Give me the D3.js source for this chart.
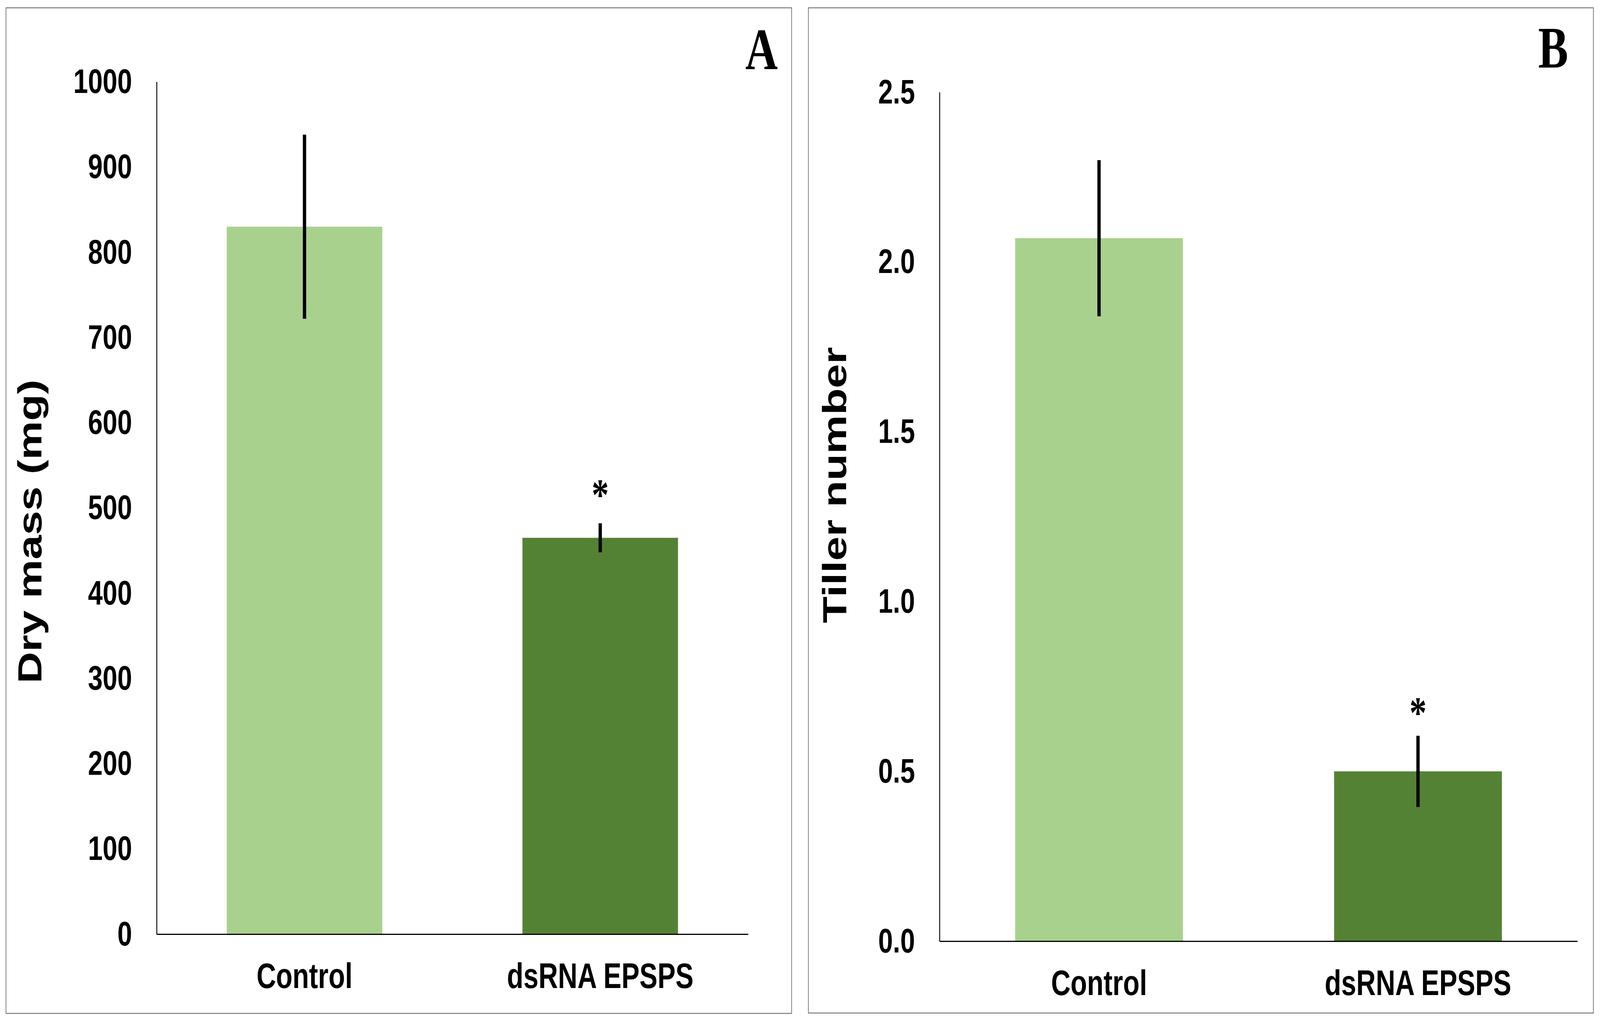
<!DOCTYPE html>
<html>
<head>
<meta charset="utf-8">
<script src="https://cdn.jsdelivr.net/npm/d3@7/dist/d3.min.js"></script>
<style>
  html, body { margin: 0; padding: 0; background: #ffffff; overflow: hidden; }
  svg { display: block; }
</style>
</head>
<body>
<svg id="chart" viewBox="0 0 5332 2617" preserveAspectRatio="none"></svg>
<script>
// ---------------- DATA ----------------
const categories = ["Control", "dsRNA EPSPS"];

// Panel A: Dry mass (mg)
const dryMassMean = [830, 465];
const dryMassErr  = [108, 17];
const dryMassTicks = [0, 100, 200, 300, 400, 500, 600, 700, 800, 900, 1000];
const dryMassSig = ["", "*"];

// Panel B: Tiller number
const tillerMean = [2.07, 0.50];
const tillerErr  = [0.23, 0.105];
const tillerTicks = [0, 0.5, 1.0, 1.5, 2.0, 2.5];
const tillerSig = ["", "*"];

const barColors = ["#A9D18E", "#548235"];

// ---------------- LAYOUT ----------------
const panels = [
  {
    letter: "A", title: "Dry mass (mg)",
    mean: dryMassMean, err: dryMassErr, ticks: dryMassTicks, sig: dryMassSig,
    domain: [0, 1000], fmt: d3.format("d"),
    frame: {x: 20, y: 20, w: 2618, h: 2575},
    x0: 522, x1: 2493, yTop: 209.5, yBot: 2392,
    titleX: 138, titleY: 1361,
    letterX: 2592, letterY: 177,
    sigOffset: 92
  },
  {
    letter: "B", title: "Tiller number",
    mean: tillerMean, err: tillerErr, ticks: tillerTicks, sig: tillerSig,
    domain: [0, 2.5], fmt: d3.format(".1f"),
    frame: {x: 2694, y: 20, w: 2616, h: 2574},
    x0: 3131, x1: 5257, yTop: 236, yBot: 2410,
    titleX: 2820, titleY: 1242,
    letterX: 5226, letterY: 173,
    sigOffset: 78
  }
];

const vw = window.innerWidth || 5332;
const vh = window.innerHeight || 2617;
const svg = d3.select("#chart")
  .attr("width", vw)
  .attr("height", vh);
svg.append("rect").attr("width", 5332).attr("height", 2617).attr("fill", "#ffffff");

const sans = "'Liberation Sans', Arial, Helvetica, sans-serif";
const serif = "'Liberation Serif', 'Times New Roman', Times, serif";

panels.forEach(p => {
  const g = svg.append("g");

  g.append("rect")
    .attr("x", p.frame.x).attr("y", p.frame.y)
    .attr("width", p.frame.w).attr("height", p.frame.h)
    .attr("fill", "none").attr("stroke", "#7a7a7a").attr("stroke-width", 2.5);

  const x = d3.scaleBand()
    .domain(categories)
    .range([p.x0, p.x1])
    .paddingInner(0.474)
    .paddingOuter(0.237);

  const y = d3.scaleLinear().domain(p.domain).range([p.yBot, p.yTop]);

  g.selectAll("rect.bar")
    .data(categories)
    .join("rect")
    .attr("class", "bar")
    .attr("x", d => x(d))
    .attr("width", x.bandwidth())
    .attr("y", (d, i) => y(p.mean[i]))
    .attr("height", (d, i) => y(0) - y(p.mean[i]))
    .attr("fill", (d, i) => barColors[i]);

  g.selectAll("line.err")
    .data(categories)
    .join("line")
    .attr("class", "err")
    .attr("x1", d => x(d) + x.bandwidth() / 2)
    .attr("x2", d => x(d) + x.bandwidth() / 2)
    .attr("y1", (d, i) => y(p.mean[i] - p.err[i]))
    .attr("y2", (d, i) => y(p.mean[i] + p.err[i]))
    .attr("stroke", "#000")
    .attr("stroke-width", 11);

  g.selectAll("text.sig")
    .data(categories)
    .join("text")
    .attr("class", "sig")
    .attr("x", d => x(d) + x.bandwidth() / 2)
    .attr("y", (d, i) => y(p.mean[i] + p.err[i]) - p.sigOffset + 57)
    .attr("text-anchor", "middle")
    .attr("font-family", serif)
    .attr("font-weight", "bold")
    .attr("font-size", 115)
    .attr("fill", "#000")
    .text((d, i) => p.sig[i]);

  const yAxis = d3.axisLeft(y)
    .tickValues(p.ticks)
    .tickFormat(p.fmt)
    .tickSize(0)
    .tickSizeOuter(0)
    .tickPadding(82);
  const ya = g.append("g")
    .attr("transform", `translate(${p.x0},0)`)
    .call(yAxis);
  ya.select(".domain").attr("stroke", "#000").attr("stroke-width", 3);
  ya.selectAll("text")
    .attr("font-family", sans)
    .attr("font-weight", "bold")
    .attr("font-size", 88)
    .attr("fill", "#000");

  const xAxis = d3.axisBottom(x).tickSize(0).tickSizeOuter(0).tickPadding(74);
  const xa = g.append("g")
    .attr("transform", `translate(0,${p.yBot})`)
    .call(xAxis);
  xa.select(".domain").attr("stroke", "#000").attr("stroke-width", 3);
  xa.selectAll("text")
    .attr("font-family", sans)
    .attr("font-weight", "bold")
    .attr("font-size", 90)
    .attr("fill", "#000");

  g.append("text")
    .attr("transform", `translate(${p.titleX},${p.titleY}) rotate(-90)`)
    .attr("text-anchor", "middle")
    .attr("font-family", sans)
    .attr("font-weight", "bold")
    .attr("font-size", 112)
    .attr("fill", "#000")
    .text(p.title);

  g.append("text")
    .attr("x", p.letterX).attr("y", p.letterY)
    .attr("text-anchor", "end")
    .attr("font-family", serif)
    .attr("font-weight", "bold")
    .attr("font-size", 150)
    .attr("fill", "#000")
    .text(p.letter);
});
</script>
</body>
</html>
